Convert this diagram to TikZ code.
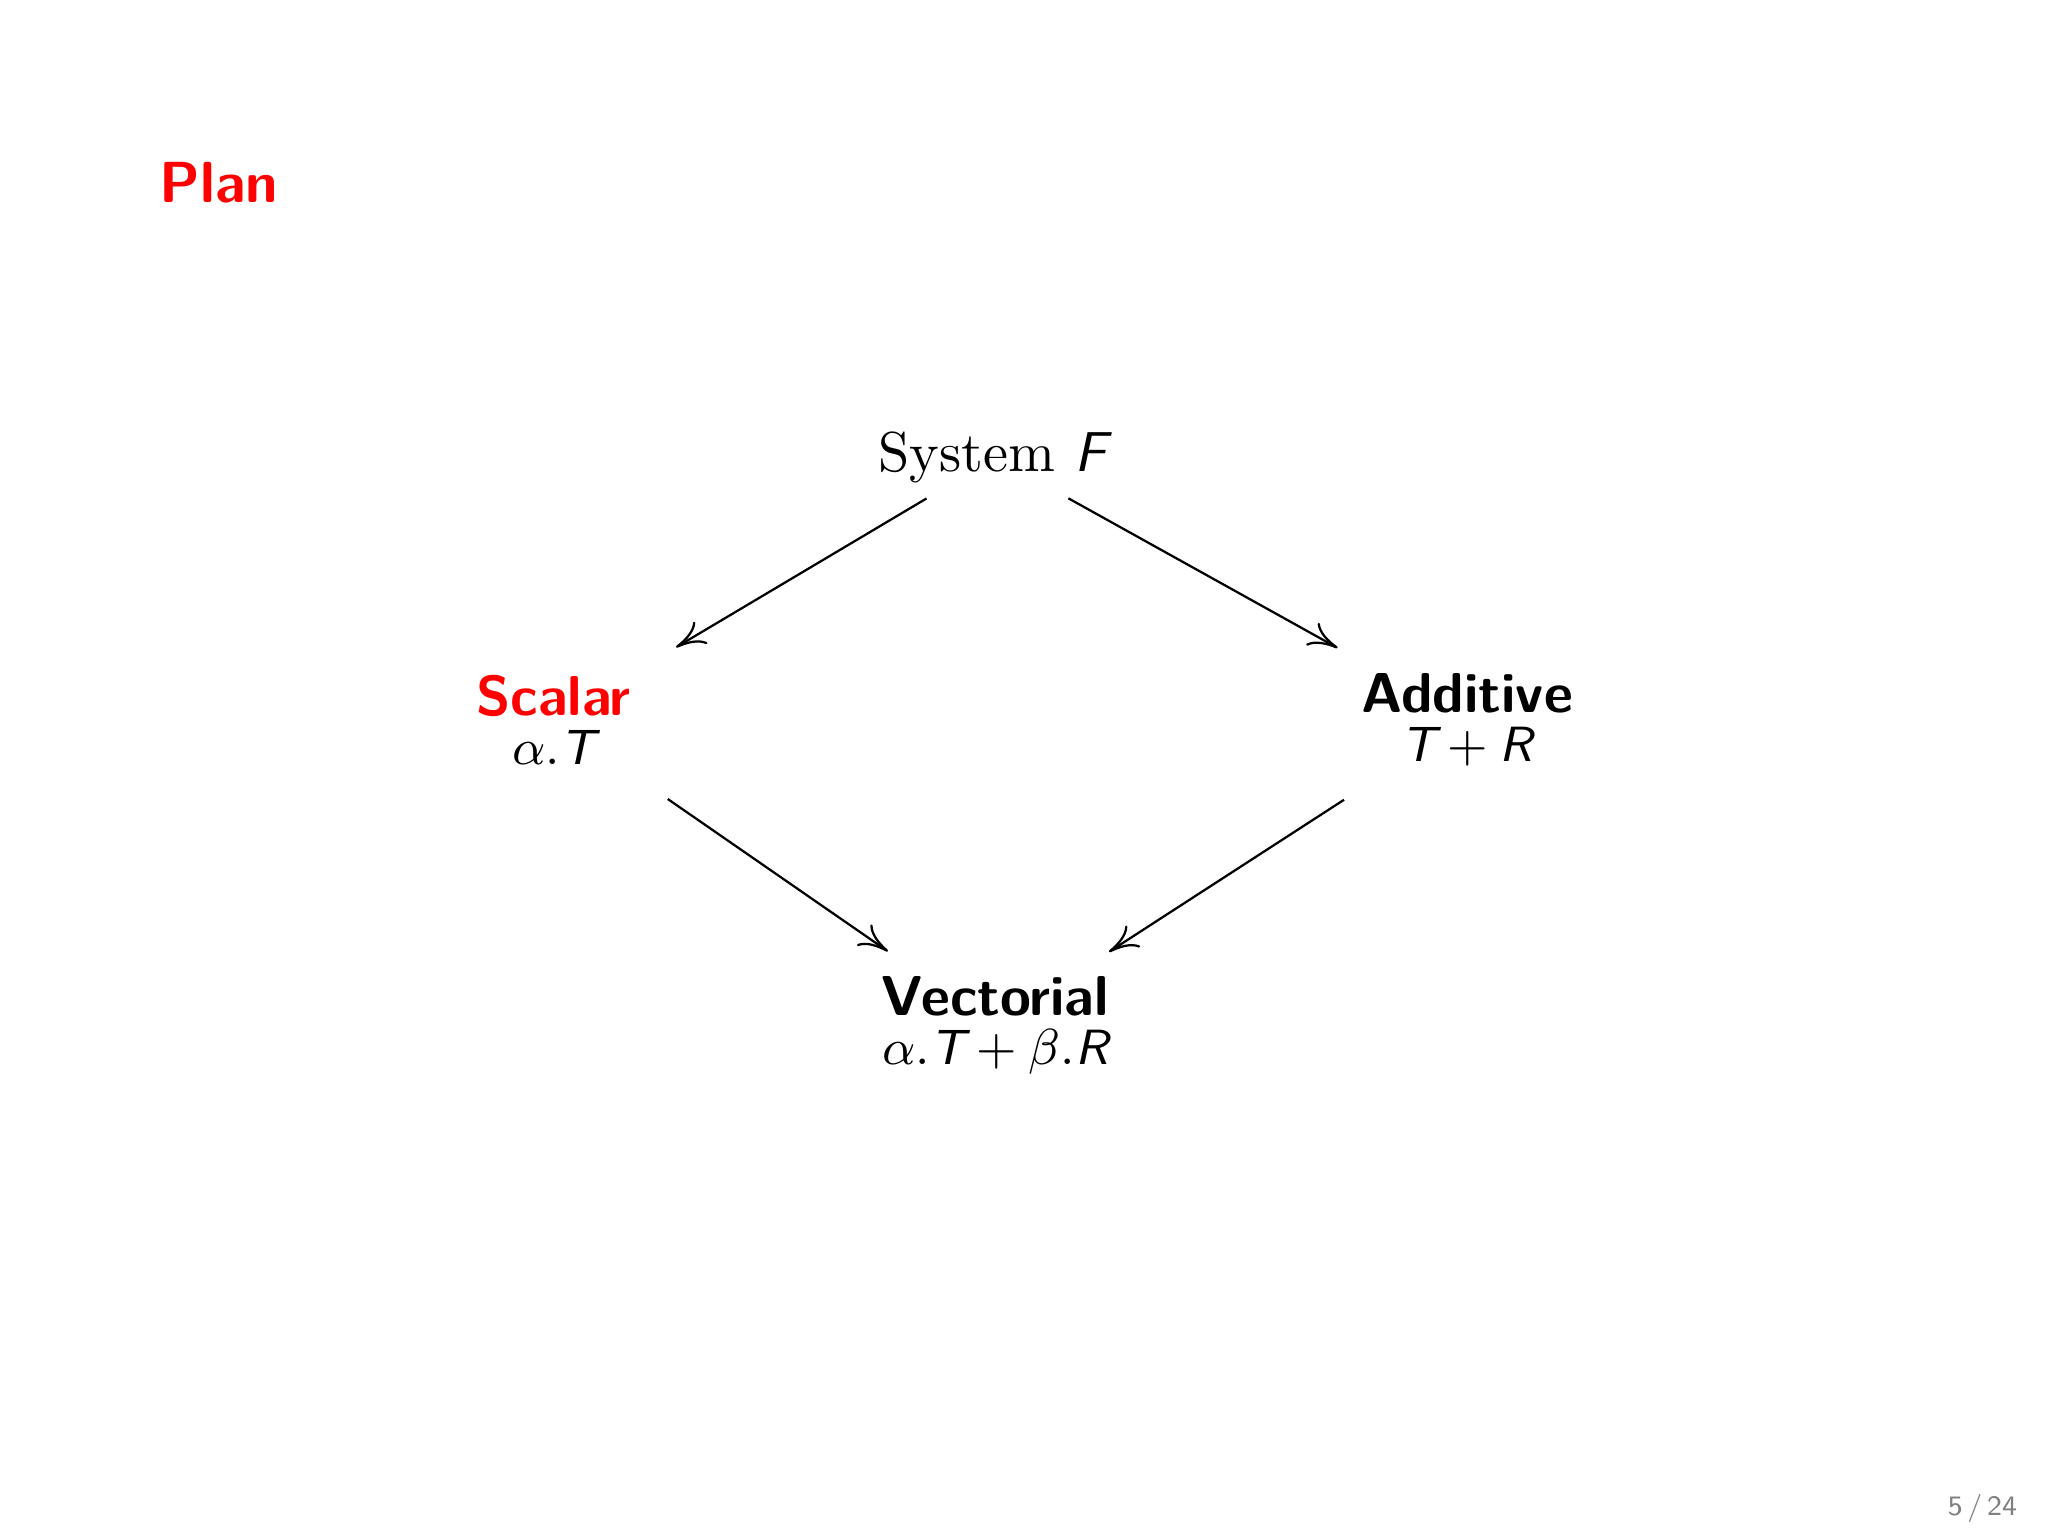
\documentclass[tikz,border=0pt]{standalone}
\usetikzlibrary{positioning, arrows.meta}

\newcommand{\sfi}[1]{\textsf{\slshape #1}}
\newcommand{\formula}[1]{{\fontsize{8.8}{8.8}\selectfont$#1$}}

\begin{document}
\begin{tikzpicture}[
					every node/.style={align=center, inner sep=2pt},
					node distance=1.64cm and 2.76cm,
					on grid,
					kind/.style={font=\fontsize{10}{8.8}\selectfont},
					link/.style={-{To[length=5.2pt, width=4.6pt]}}]
				\useasboundingbox (0,0) rectangle (12.8,9.6);
				\node[anchor=west, text=red, font=\fontsize{10.3}{12}\selectfont\sffamily\bfseries] (plan) at (0.92,8.46) {Plan};
				\node[font=\fontsize{10}{12}\selectfont] (sysf) at (6.22,6.74) {System \sfi{F}};
				\node[kind, below left =of sysf] (scal) {{\sffamily\bfseries\color{red}Scalar}\\\formula{\alpha.\sfi{T}}};
				\node[kind, below right =1.64cm and 2.95cm of sysf] (add) {{\sffamily\bfseries Additive}\\\formula{\sfi{T}+\sfi{R}}};
				\node[kind, below =3.55cm of sysf] (vect) {{\sffamily\bfseries Vectorial}\\\formula{\alpha.\sfi{T}+\beta.\sfi{R}}};
				\node[text=gray, font=\fontsize{5}{6}\selectfont\sffamily] (page) at (12.39,0.17) {5\,/\,24};
				\foreach \from/\to/\a/\b in {sysf/scal/1pt/6.8pt, sysf/add/1pt/4.8pt, scal/vect/6.8pt/4pt, add/vect/6.8pt/4pt}
					\draw[link, shorten <=\a, shorten >=\b] (\from) -- (\to);
			\end{tikzpicture}
\end{document}
